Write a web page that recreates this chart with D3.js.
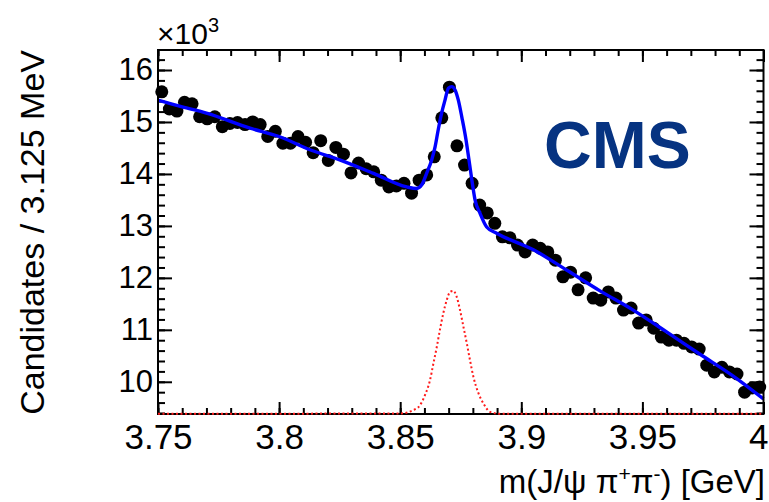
<!DOCTYPE html>
<html>
<head>
<meta charset="utf-8">
<script src="https://cdn.jsdelivr.net/npm/d3@7"></script>
<style>
  html, body { margin: 0; padding: 0; background: #fff; }
  svg { display: block; }
  text { font-family: "Liberation Sans", Arial, Helvetica, sans-serif; }
</style>
</head>
<body>
<svg id="chart" width="769" height="502"></svg>
<script>
// ---------------- data ----------------
const massMin = 3.75, massMax = 4.0, binWidth = 0.003125;   // GeV
const yMin = 9.38, yMax = 16.385;                            // x10^3 candidates

// candidates per 3.125 MeV bin (x10^3), 80 bins from 3.75 to 4.0 GeV
const counts = [
  15.58, 15.25, 15.21, 15.38, 15.35, 15.10, 15.06, 15.10, 14.91, 14.97,
  14.99, 14.95, 15.00, 14.95, 14.72, 14.82, 14.59, 14.59, 14.72, 14.61,
  14.41, 14.64, 14.26, 14.51, 14.38, 14.02, 14.21, 14.10, 14.04, 13.88,
  13.75, 13.77, 13.82, 13.63, 13.88, 13.98, 14.33, 15.08, 15.67, 14.54,
  14.17, 13.82, 13.40, 13.25, 13.05, 12.79, 12.77, 12.63, 12.50, 12.63,
  12.57, 12.50, 12.34, 12.02, 12.11, 11.77, 12.00, 11.61, 11.57, 11.73,
  11.61, 11.38, 11.42, 11.13, 11.19, 11.03, 10.86, 10.80, 10.80, 10.74,
  10.67, 10.63, 10.32, 10.19, 10.28, 10.19, 10.15, 9.80, 9.88, 9.90
];

// total fit (blue)
const fitMass = [3.750, 3.760, 3.770, 3.788, 3.800, 3.813, 3.825, 3.839, 3.8527, 3.8568,
  3.8589, 3.8609, 3.8630, 3.8644, 3.8657, 3.8671, 3.8685, 3.8699, 3.8713, 3.8726,
  3.8740, 3.8755, 3.8772, 3.8784, 3.8796, 3.8809, 3.8829, 3.8857, 3.8898, 3.905,
  3.9187, 3.9325, 3.9462, 3.960, 3.9738, 3.9875, 4.000];
const fitValue = [15.42, 15.29, 15.17, 14.88, 14.72, 14.46, 14.27, 14.01, 13.75, 13.72,
  13.79, 14.01, 14.27, 14.52, 14.85, 15.17, 15.42, 15.65, 15.68, 15.62,
  15.42, 15.08, 14.65, 14.27, 13.88, 13.50, 13.25, 12.98, 12.86, 12.54,
  12.15, 11.75, 11.38, 10.96, 10.53, 10.11, 9.67];

// signal component (red dotted)
const sigMass = [3.750, 3.8499, 3.8554, 3.8582, 3.8602, 3.8623, 3.8637, 3.8651, 3.8664, 3.8678,
  3.8692, 3.8706, 3.8719, 3.8733, 3.8747, 3.8761, 3.8775, 3.8788, 3.8802, 3.8823,
  3.8844, 3.8871, 3.8912, 4.000];
const sigValue = [9.385, 9.39, 9.455, 9.55, 9.74, 10.03, 10.35, 10.67, 11.00, 11.32,
  11.57, 11.73, 11.75, 11.64, 11.38, 11.06, 10.74, 10.42, 10.10, 9.78,
  9.58, 9.42, 9.385, 9.385];

const xTickLabels = ["3.75", "3.8", "3.85", "3.9", "3.95", "4"];
const xMajor = [3.75, 3.80, 3.85, 3.90, 3.95, 4.00];
const yMajor = [10, 11, 12, 13, 14, 15, 16];
const yTickLabels = ["10", "11", "12", "13", "14", "15", "16"];
const xTitle = "m(J/\u03C8 \u03C0";
const yTitle = "Candidates / 3.125 MeV";
const expLabel = "CMS";

// ---------------- layout ----------------
const L = 158, R = 763.5, T = 50, B = 414;
const svg = d3.select("#chart");
const x = d3.scaleLinear().domain([massMin, massMax]).range([L, R]);
const y = d3.scaleLinear().domain([yMin, yMax]).range([B, T]);

const xMinor = d3.range(0, 26).map(i => +(massMin + i * 0.01).toFixed(3));
const yMinorTicks = d3.range(47, 82).map(i => +(i * 0.2).toFixed(1)).filter(v => v >= yMin && v <= yMax);

const g = svg.append("g");

function styleAxis(sel) {
  sel.select(".domain").remove();
  sel.selectAll(".tick line").attr("stroke", "#000").attr("stroke-width", 2);
}

// minor ticks
g.append("g").attr("transform", `translate(0,${B})`)
  .call(d3.axisBottom(x).tickValues(xMinor).tickSizeInner(-6).tickSizeOuter(0).tickFormat(""))
  .call(styleAxis);
g.append("g").attr("transform", `translate(0,${T})`)
  .call(d3.axisTop(x).tickValues(xMinor).tickSizeInner(-6).tickSizeOuter(0).tickFormat(""))
  .call(styleAxis);
g.append("g").attr("transform", `translate(${L},0)`)
  .call(d3.axisLeft(y).tickValues(yMinorTicks).tickSizeInner(-7).tickSizeOuter(0).tickFormat(""))
  .call(styleAxis);
g.append("g").attr("transform", `translate(${R},0)`)
  .call(d3.axisRight(y).tickValues(yMinorTicks).tickSizeInner(-7).tickSizeOuter(0).tickFormat(""))
  .call(styleAxis);

// major ticks + labels
const xAxis = g.append("g").attr("transform", `translate(0,${B})`)
  .call(d3.axisBottom(x).tickValues(xMajor).tickSizeInner(-12).tickSizeOuter(0).tickPadding(10)
    .tickFormat((d, i) => xTickLabels[i]))
  .call(styleAxis);
xAxis.selectAll("text").attr("font-size", 35).attr("fill", "#000")
  .attr("font-family", "Liberation Sans, Arial, sans-serif");
// keep the last label ("4") inside the page
xAxis.selectAll(".tick").filter(d => d === massMax).select("text")
  .attr("text-anchor", "end").attr("x", 769 - R - 1);

g.append("g").attr("transform", `translate(0,${T})`)
  .call(d3.axisTop(x).tickValues(xMajor).tickSizeInner(-12).tickSizeOuter(0).tickFormat(""))
  .call(styleAxis);

const yAxis = g.append("g").attr("transform", `translate(${L},0)`)
  .call(d3.axisLeft(y).tickValues(yMajor).tickSizeInner(-14).tickSizeOuter(0).tickPadding(5)
    .tickFormat((d, i) => yTickLabels[i]))
  .call(styleAxis);
yAxis.selectAll("text").attr("font-size", 31).attr("fill", "#000")
  .attr("font-family", "Liberation Sans, Arial, sans-serif");

g.append("g").attr("transform", `translate(${R},0)`)
  .call(d3.axisRight(y).tickValues(yMajor).tickSizeInner(-14).tickSizeOuter(0).tickFormat(""))
  .call(styleAxis);

// data points
const binCenters = counts.map((c, i) => massMin + (i + 0.5) * binWidth);
g.append("g").selectAll("circle")
  .data(counts)
  .join("circle")
  .attr("cx", (d, i) => x(binCenters[i]))
  .attr("cy", d => y(d))
  .attr("r", 6.5)
  .attr("fill", "#000");

// fit curve
const line = d3.line().curve(d3.curveMonotoneX);
g.append("path")
  .attr("d", line(fitMass.map((m, i) => [x(m), y(fitValue[i])])))
  .attr("fill", "none").attr("stroke", "#0000ff").attr("stroke-width", 3.4)
  .attr("stroke-linejoin", "round");

// frame
g.append("rect").attr("x", L).attr("y", T).attr("width", R - L).attr("height", B - T)
  .attr("fill", "none").attr("stroke", "#000").attr("stroke-width", 2);

// signal curve (drawn over the frame, as in the reference)
g.append("path")
  .attr("d", line(sigMass.map((m, i) => [x(m), y(sigValue[i])])))
  .attr("fill", "none").attr("stroke", "#ff1a1a").attr("stroke-width", 2)
  .attr("stroke-dasharray", "2,2.5");

// x10^3
const ex = svg.append("text").attr("x", 157).attr("y", 44).attr("font-size", 30).attr("fill", "#000");
ex.append("tspan").text("\u00D710");
ex.append("tspan").attr("font-size", 20).attr("dy", -12).text("3");

// axis titles
const xt = svg.append("text").attr("x", 765).attr("y", 493).attr("text-anchor", "end")
  .attr("font-size", 33).attr("fill", "#000");
xt.append("tspan").text(xTitle);
xt.append("tspan").attr("font-size", 21).attr("dy", -12).text("+");
xt.append("tspan").attr("dy", 12).text("\u03C0");
xt.append("tspan").attr("font-size", 21).attr("dy", -12).text("-");
xt.append("tspan").attr("dy", 12).text(") [GeV]");

svg.append("text")
  .attr("transform", `translate(44,${T}) rotate(-90)`)
  .attr("text-anchor", "end").attr("font-size", 34).attr("fill", "#000")
  .text(yTitle);

// CMS label
svg.append("text").attr("x", 544).attr("y", 168)
  .attr("font-size", 66).attr("font-weight", "bold").attr("fill", "#063381")
  .text(expLabel);
</script>
</body>
</html>
